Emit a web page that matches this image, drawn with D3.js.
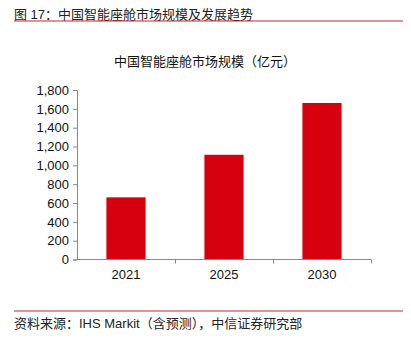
<!DOCTYPE html>
<html><head><meta charset="utf-8">
<script src="https://cdn.jsdelivr.net/npm/d3@7"></script>
<style>
html,body{margin:0;padding:0;background:#fff;}
svg{display:block;}
</style></head>
<body>
<svg id="c" width="411" height="338"></svg>
<script>
const categories = ["2021", "2025", "2030"];
const values = [660, 1112, 1662];
const yTicks = [0, 200, 400, 600, 800, 1000, 1200, 1400, 1600, 1800];
const headerTitle = "图 17：中国智能座舱市场规模及发展趋势";
const chartTitle = "中国智能座舱市场规模（亿元）";
const sourceText = "资料来源：IHS Markit（含预测），中信证券研究部";

const svg = d3.select("#c");
const cjk = "'Liberation Sans', 'Noto Sans CJK SC', sans-serif";

svg.append("text").attr("x", 14).attr("y", 19).attr("font-family", cjk)
  .attr("font-size", 13).attr("fill", "#222").text(headerTitle);
svg.append("line").attr("x1", 14).attr("x2", 403).attr("y1", 21).attr("y2", 21)
  .attr("stroke", "#c0282d").attr("stroke-width", 1);

svg.append("text").attr("x", 205).attr("y", 66).attr("text-anchor", "middle")
  .attr("font-family", cjk).attr("font-size", 13).attr("fill", "#111").text(chartTitle);

const x = d3.scaleBand().domain(categories).range([77, 371]).paddingInner(0.6).paddingOuter(0.3);
const xAxisBand = d3.scaleBand().domain(categories).range([77, 371]);
const y = d3.scaleLinear().domain([0, 1800]).range([259.5, 90]);

svg.selectAll("rect.bar").data(values).join("rect").attr("class", "bar")
  .attr("x", (d, i) => x(categories[i]))
  .attr("width", x.bandwidth())
  .attr("y", d => y(d))
  .attr("height", d => y(0) - y(d))
  .attr("fill", "#d7000f");

// y axis
const ya = svg.append("g").attr("transform", "translate(77,0)")
  .call(d3.axisLeft(y).tickValues(yTicks).tickSize(4).tickPadding(4).tickFormat(d3.format(",")));
ya.select(".domain").attr("stroke", "#888");
ya.selectAll(".tick line").attr("stroke", "#888");
ya.selectAll("text").attr("font-family", "'Liberation Sans', Arial, sans-serif").attr("font-size", 13).attr("fill", "#111");

// x axis
const xa = svg.append("g").attr("transform", "translate(0,259.5)")
  .call(d3.axisBottom(x).tickSize(0).tickPadding(10));
xa.select(".domain").remove();
xa.selectAll("text").attr("font-family", "'Liberation Sans', Arial, sans-serif").attr("font-size", 13).attr("fill", "#111");
svg.append("line").attr("x1", 77).attr("x2", 371).attr("y1", 259.5).attr("y2", 259.5).attr("stroke", "#888");
const bounds = categories.map(c => xAxisBand(c) + xAxisBand.bandwidth());
svg.selectAll("line.xt").data(bounds).join("line").attr("class", "xt")
  .attr("x1", d => Math.round(d) + 0.5).attr("x2", d => Math.round(d) + 0.5)
  .attr("y1", 259.5).attr("y2", 263.5).attr("stroke", "#888");

svg.append("line").attr("x1", 14).attr("x2", 403).attr("y1", 311).attr("y2", 311)
  .attr("stroke", "#c0282d").attr("stroke-width", 1);
svg.append("text").attr("x", 14).attr("y", 328).attr("font-family", cjk)
  .attr("font-size", 13).attr("fill", "#222").text(sourceText);
</script>
</body></html>
